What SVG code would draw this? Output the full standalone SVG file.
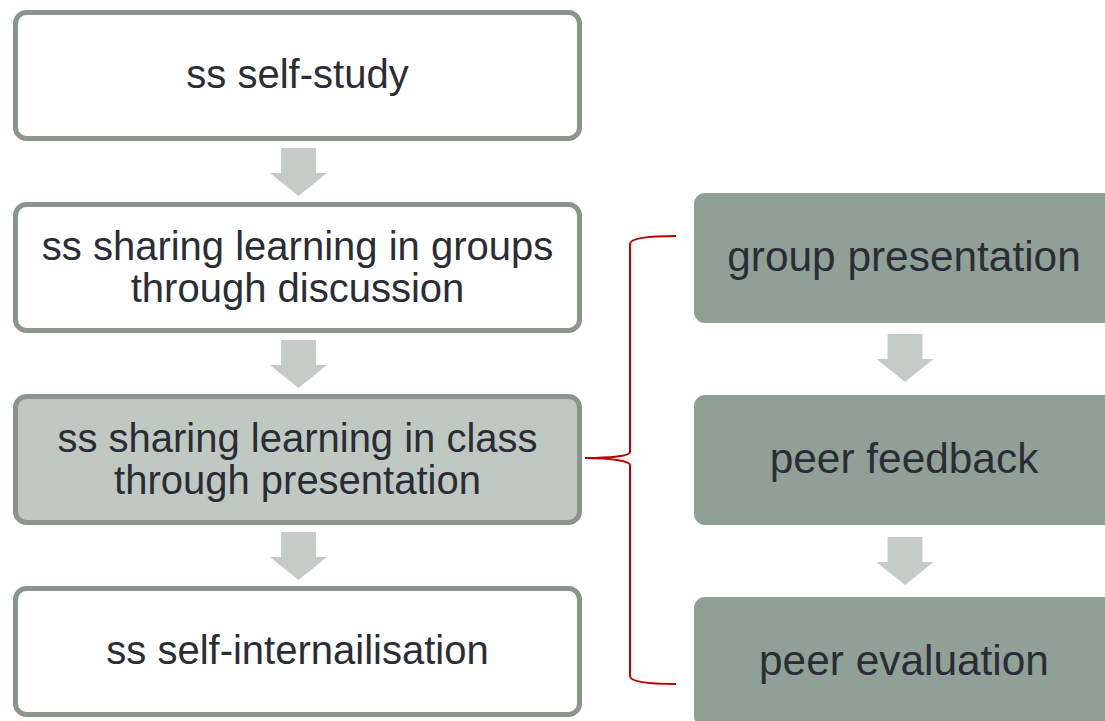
<svg xmlns="http://www.w3.org/2000/svg" width="1105" height="721" viewBox="0 0 1105 721">
<style>
.lb{fill:#ffffff;stroke:#8a958b;stroke-width:5}
.lb.hl{fill:#c0c8c2}
.rb{fill:#91a096}
.t{font-family:"Liberation Sans",Arial,sans-serif;fill:#2a2d36;text-anchor:middle}
.tl{font-size:40px}
.tr{font-size:42.4px}
.ar{fill:#c5ccc7}
.br{fill:none;stroke:#c00000;stroke-width:2}
</style>
<defs>
<path id="arrow" d="M-17.5 0 H17.5 V25 H28.5 L0 48 L-28.5 25 H-17.5 Z"/>
</defs>
<g id="connectors">
<use href="#arrow" class="ar" x="298.5" y="148"/>
<use href="#arrow" class="ar" x="298.5" y="340"/>
<use href="#arrow" class="ar" x="298.5" y="532"/>
<use href="#arrow" class="ar" x="905" y="334"/>
<use href="#arrow" class="ar" x="905" y="537"/>
<path class="br" d="M676 236 C650 236 630 238 630 244 L630 452 C630 456 610 458 585 458 C610 458 630 461 630 465 L630 676 C630 682 650 684 676 684"/>
</g>
<g id="n1">
<rect class="lb" x="15.5" y="12.5" width="564" height="126" rx="11"/>
<text class="t tl" x="297.5" y="88">ss self-study</text>
</g>
<g id="n2">
<rect class="lb" x="15.5" y="204.5" width="564" height="126" rx="11"/>
<text class="t tl" x="297.5" y="260">ss sharing learning in groups</text>
<text class="t tl" x="297.5" y="301.5">through discussion</text>
</g>
<g id="n3">
<rect class="lb hl" x="15.5" y="396.5" width="564" height="126" rx="11"/>
<text class="t tl" x="297.5" y="452">ss sharing learning in class</text>
<text class="t tl" x="297.5" y="493.5">through presentation</text>
</g>
<g id="n4">
<rect class="lb" x="15.5" y="588.5" width="564" height="126" rx="11"/>
<text class="t tl" x="297.5" y="664">ss self-internailisation</text>
</g>
<g id="r1">
<rect class="rb" x="694" y="193" width="421" height="130" rx="11"/>
<text class="t tr" x="904" y="271">group presentation</text>
</g>
<g id="r2">
<rect class="rb" x="694" y="395" width="421" height="130" rx="11"/>
<text class="t tr" x="904" y="473">peer feedback</text>
</g>
<g id="r3">
<rect class="rb" x="694" y="597" width="421" height="130" rx="11"/>
<text class="t tr" x="904" y="675">peer evaluation</text>
</g>
</svg>
